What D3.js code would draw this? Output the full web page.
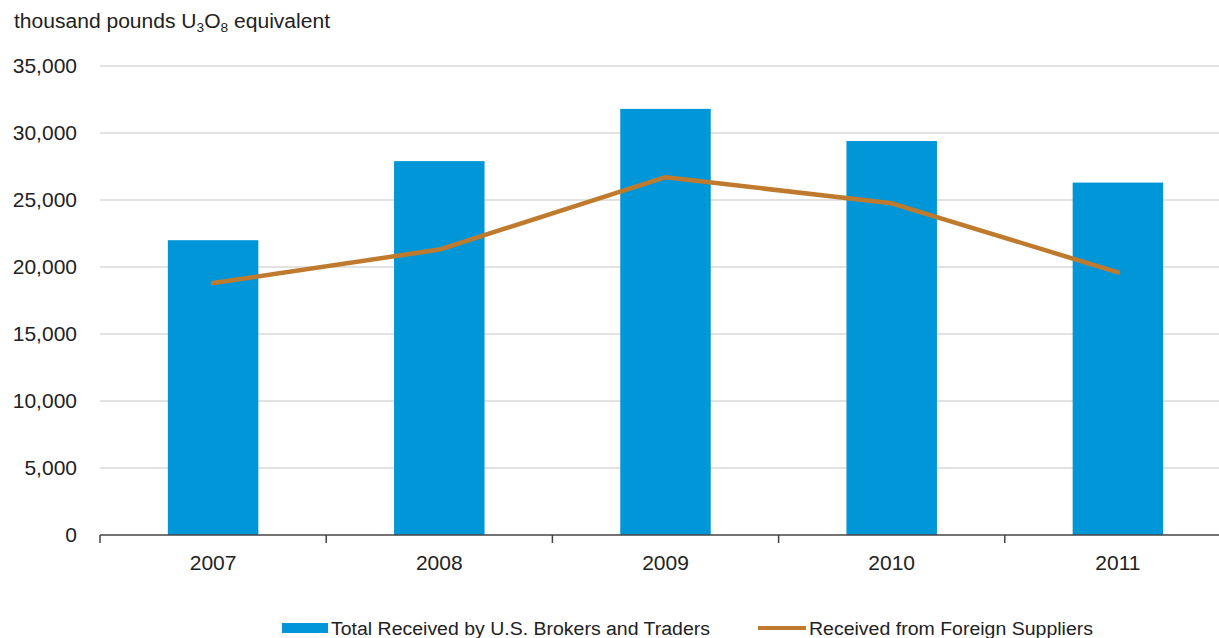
<!DOCTYPE html>
<html><head><meta charset="utf-8">
<script src="https://cdn.jsdelivr.net/npm/d3@7"></script>
<style>
html,body{margin:0;padding:0;background:#fff;}
svg{display:block;font-family:"Liberation Sans",Arial,sans-serif;}
</style></head>
<body>
<svg id="chart" width="1219" height="638"></svg>
<script>
const years = ["2007","2008","2009","2010","2011"];
const totalReceived = [22000, 27900, 31800, 29400, 26300];
const foreignSuppliers = [18800, 21300, 26700, 24750, 19600];
const yTicks = [0, 5000, 10000, 15000, 20000, 25000, 30000, 35000];
const seriesNames = ["Total Received by U.S. Brokers and Traders", "Received from Foreign Suppliers"];

const svg = d3.select("#chart");
const pLeft = 100, pRight = 1231, pTop = 66, pBottom = 535;

const x = d3.scaleBand().domain(years).range([pLeft, pRight]).paddingInner(0).paddingOuter(0);
const y = d3.scaleLinear().domain([0, 35000]).range([pBottom, pTop]);

// gridlines
svg.append("g").selectAll("line").data(yTicks.filter(d => d > 0)).join("line")
  .attr("x1", pLeft).attr("x2", 1219)
  .attr("y1", d => y(d)).attr("y2", d => y(d))
  .attr("stroke", "#d9d9d9").attr("stroke-width", 1.5);

// y labels
svg.append("g").selectAll("text").data(yTicks).join("text")
  .attr("x", 77).attr("y", d => y(d)).attr("dy", "0.35em")
  .attr("text-anchor", "end").attr("font-size", 21).attr("fill", "#222")
  .text(d => d3.format(",")(d));

// bars
const bw = x.bandwidth() * 0.4;
svg.append("g").selectAll("rect").data(totalReceived).join("rect")
  .attr("x", (d, i) => x(years[i]) + x.bandwidth() / 2 - bw / 2)
  .attr("width", bw)
  .attr("y", d => y(d))
  .attr("height", d => y(0) - y(d))
  .attr("fill", "#0096d7");

// x axis
const xa = svg.append("g");
xa.append("line").attr("x1", pLeft).attr("x2", pRight).attr("y1", pBottom).attr("y2", pBottom)
  .attr("stroke", "#444").attr("stroke-width", 1.5);
const bounds = years.map(d => x(d)).concat([pRight]);
xa.selectAll("line.tick").data(bounds).join("line").attr("class", "tick")
  .attr("x1", d => d).attr("x2", d => d).attr("y1", pBottom).attr("y2", pBottom + 8)
  .attr("stroke", "#444").attr("stroke-width", 1.5);
xa.selectAll("text").data(years).join("text")
  .attr("x", d => x(d) + x.bandwidth() / 2).attr("y", 570)
  .attr("text-anchor", "middle").attr("font-size", 21).attr("fill", "#222")
  .text(d => d);

// line
const line = d3.line().x((d, i) => x(years[i]) + x.bandwidth() / 2).y(d => y(d));
svg.append("path").datum(foreignSuppliers).attr("d", line)
  .attr("fill", "none").attr("stroke", "#c07a2e").attr("stroke-width", 4.5)
  .attr("stroke-linejoin", "round").attr("stroke-linecap", "round");

// title
const t = svg.append("text").attr("x", 14).attr("y", 28).attr("font-size", 20).attr("fill", "#222")
  .attr("textLength", 316).attr("lengthAdjust", "spacingAndGlyphs");
t.append("tspan").text("thousand pounds U");
t.append("tspan").attr("font-size", 13).attr("dy", 4).text("3");
t.append("tspan").attr("dy", -4).text("O");
t.append("tspan").attr("font-size", 13).attr("dy", 4).text("8");
t.append("tspan").attr("dy", -4).text(" equivalent");

// legend
const lg = svg.append("g");
lg.append("rect").attr("x", 282).attr("y", 623).attr("width", 46).attr("height", 10).attr("fill", "#0096d7");
lg.append("text").attr("x", 331).attr("y", 635).attr("font-size", 18).attr("fill", "#222")
  .attr("textLength", 379).attr("lengthAdjust", "spacingAndGlyphs").text(seriesNames[0]);
lg.append("line").attr("x1", 758).attr("x2", 806).attr("y1", 628).attr("y2", 628)
  .attr("stroke", "#c07a2e").attr("stroke-width", 4);
lg.append("text").attr("x", 809).attr("y", 635).attr("font-size", 18).attr("fill", "#222")
  .attr("textLength", 284).attr("lengthAdjust", "spacingAndGlyphs").text(seriesNames[1]);
</script>
</body></html>
